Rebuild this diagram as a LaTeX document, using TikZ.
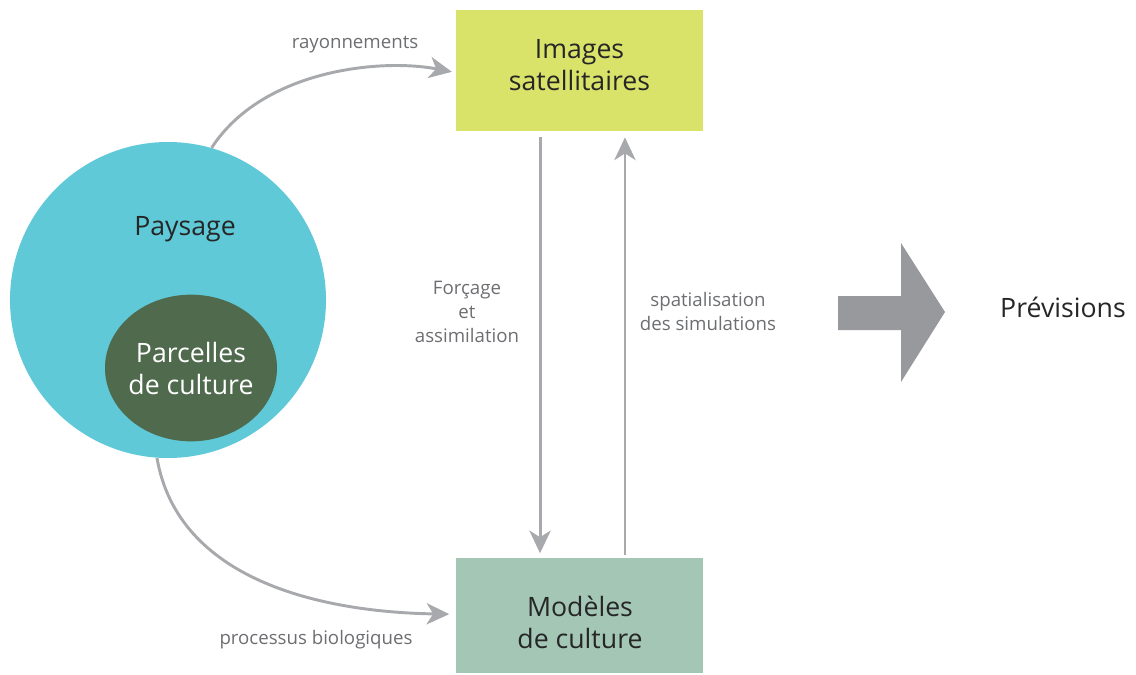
\documentclass[tikz,border=0pt]{standalone}
\usepackage{fontspec}
\setmainfont{Open Sans}
\usetikzlibrary{arrows.meta,shapes.geometric}
\definecolor{paysagecol}{HTML}{5FC9D8}
\definecolor{parcellecol}{HTML}{4F6A4D}
\definecolor{satcol}{HTML}{D9E36A}
\definecolor{modcol}{HTML}{A3C6B5}
\definecolor{flechecol}{HTML}{A7A9AC}
\definecolor{grossefleche}{HTML}{98999C}
\definecolor{textegris}{HTML}{6D6E71}

\begin{document}
\begin{tikzpicture}[x=0.75pt,y=-0.75pt,
  grandtexte/.style={align=center, text=black!85, font=\fontsize{20}{24}\selectfont},
  boite/.style={grandtexte, minimum width=185pt, inner sep=0pt},
  fleche/.style={draw=flechecol, line width=2.2pt, -{Stealth[length=17pt,width=16pt,inset=5pt]}},
  legende/.style={text=textegris, align=center, font=\fontsize{14}{18}\selectfont}]
  \useasboundingbox (0,0) rectangle (1136,675);
  % paysage et parcelles
  \node[circle, fill=paysagecol, minimum size=237pt] (paysage) at (168,300) {};
  \node[grandtexte] (paysagetxt) at (185,229) {Paysage};
  \node[ellipse, fill=parcellecol, minimum width=129pt, minimum height=110pt, inner sep=0pt] (parcelles) at (191,368) {};
  \node[grandtexte, text=white] (parcellestxt) at (parcelles) {Parcelles\\de culture};
  % boites
  \node[boite, fill=satcol, minimum height=91pt, text depth=9pt] (sat) at (579.5,70.5) {Images\\satellitaires};
  \node[boite, fill=modcol, minimum height=86pt] (mod) at (579.5,615.5) {};
  \node[grandtexte] (modtxt) at (580,622) {Modèles\\de culture};
  % fleches
  \draw[fleche] (paysage.74) .. controls (262,70) and (380,58) .. ([xshift=-3pt,yshift=-1pt]sat.west);
  \draw[fleche] (paysage.266) .. controls (178,580) and (320,612) .. ([xshift=-5pt,yshift=1pt]mod.west);
  \draw[fleche] ([xshift=-29.6pt,yshift=-4.5pt]sat.south) -- ([xshift=-29.6pt,yshift=3.5pt]mod.north);
  \draw[fleche] ([xshift=34.1pt,yshift=2pt]mod.north) -- ([xshift=34.1pt,yshift=-4.5pt]sat.south);
  \node[legende] (rayon) at (355,45) {rayonnements};
  \node[legende] (bio) at (316,640) {processus biologiques};
  \node[legende] (forcage) at (467,312) {Forçage\\et\\assimilation};
  \node[legende] (spatial) at (708,311) {spatialisation\\des simulations};
  % previsions
  \fill[grossefleche] (838,296) -- (901,296) -- (901,243) -- (945,312)
    -- (901,382) -- (901,330) -- (838,330) -- cycle;
  \node[grandtexte] (prev) at (1063,307) {Prévisions};
\end{tikzpicture}
\end{document}
